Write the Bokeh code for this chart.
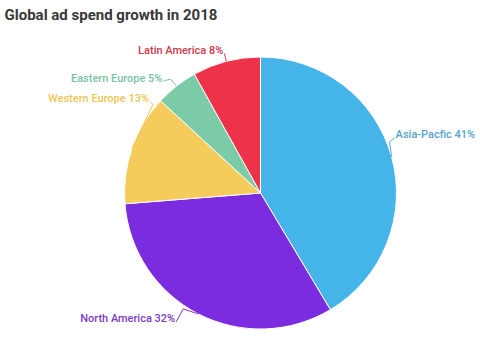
import math
from bokeh.plotting import figure
from bokeh.models import Range1d
from bokeh.embed import file_html
from bokeh.resources import INLINE
from bokeh.core.properties import value

# ---- data ----
title_text = "Global ad spend growth in 2018"
regions = ["Asia-Pacfic", "North America", "Western Europe", "Eastern Europe", "Latin America"]
shares = [41, 32, 13, 5, 8]

# ---- style ----
slice_colors = ["#45B4E8", "#7A2CDE", "#F5CB5C", "#7CCBA7", "#EE3249"]
label_colors = ["#5AA5CC", "#7B3CC4", "#EFC655", "#7DC3A3", "#CE3A50"]
# label anchor offsets from the slice's arc midpoint (screen px, y down)
label_offsets = [(4, -22), (-23, 5), (17, -50), (-14, -8), (-3, -11)]
elbow_offsets = [(-2, -15), (-15, -5), (21, -44), (-6, -7), (-1, -4)]
label_align = ["left", "right", "right", "right", "right"]

W, H = 480, 337
cx, cy, r = 260, 192.5, 136

p = figure(width=W, height=H, output_backend="svg", toolbar_location=None,
           x_range=Range1d(0, W), y_range=Range1d(0, H), min_border=0)
p.axis.visible = False
p.grid.visible = False
p.outline_line_color = None
p.background_fill_color = "white"
p.border_fill_color = "white"

total = sum(shares)
cum = 0
starts, ends, mids = [], [], []
for s in shares:
    a0 = math.pi / 2 - 2 * math.pi * cum / total
    cum += s
    a1 = math.pi / 2 - 2 * math.pi * cum / total
    starts.append(a0)
    ends.append(a1)
    mids.append((a0 + a1) / 2)

p.wedge(x=[cx] * len(shares), y=[H - cy] * len(shares), radius=r,
        start_angle=starts, end_angle=ends, direction="clock",
        fill_color=slice_colors, line_color="white", line_width=1)

lx, ly, texts, xs_lines, ys_lines = [], [], [], [], []
for i, (name, s) in enumerate(zip(regions, shares)):
    px = cx + r * math.cos(mids[i])
    py = cy - r * math.sin(mids[i])
    ex, ey = px + elbow_offsets[i][0], py + elbow_offsets[i][1]
    tx, ty = px + label_offsets[i][0], py + label_offsets[i][1]
    xs_lines.append([px, ex, tx + (-1 if label_align[i] == "left" else 1)])
    ys_lines.append([H - py, H - ey, H - (ty + 3)])
    lx.append(tx)
    ly.append(H - ty)
    texts.append(f"{name} {s}%")

p.multi_line(xs=xs_lines, ys=ys_lines, line_color=label_colors, line_width=1)

for i in range(len(texts)):
    p.text(x=[lx[i]], y=[ly[i]], text=[texts[i]], text_align=label_align[i],
           text_baseline="middle", text_font=value("Roboto Medium, Roboto"),
           text_font_size="11px", text_color=label_colors[i])

p.text(x=[4], y=[H - 14], text=[title_text], text_align="left", text_baseline="middle",
       text_font=value("Roboto"), text_font_size="15px", text_font_style="bold",
       text_color="#383838")

open("out.html", "w").write(file_html(p, INLINE))
